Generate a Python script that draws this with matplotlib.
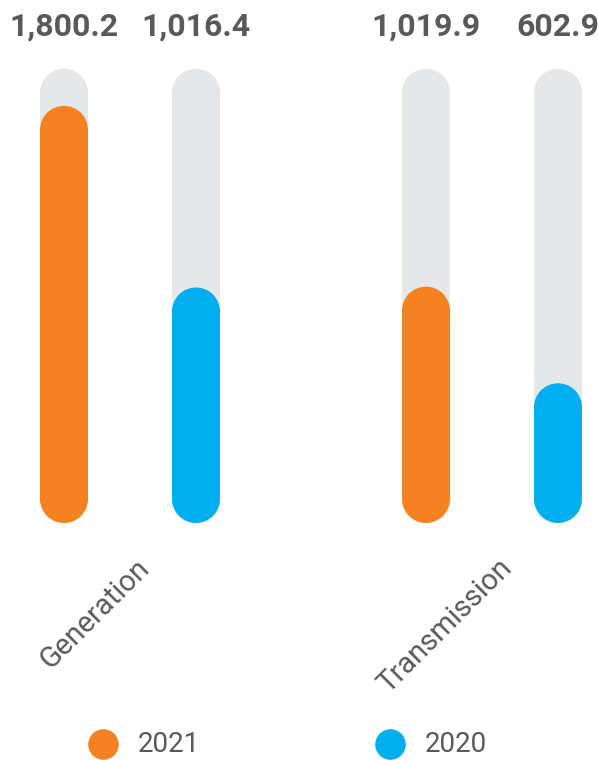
import matplotlib.pyplot as plt
from matplotlib.patches import Rectangle, Ellipse
from matplotlib.lines import Line2D

# data
categories = ['Generation', 'Transmission']
years = ['2021', '2020']
values_2021 = [1800.2, 1019.9]
values_2020 = [1016.4, 602.9]

orange = '#F58220'
blue = '#00AEEF'
track = '#E6E7E8'
txt = '#58595B'

W, H = 598, 760
fig = plt.figure(figsize=(W / 100, H / 100), dpi=100)

# axes: bottom of bars at 523px from top, group centres at 130 and 492 px
bottom_px = 523
ax = fig.add_axes([0, (H - bottom_px) / H, 1, bottom_px / H])
group_gap = 362.0
ax.set_xlim(-130 / group_gap, (W - 130) / group_gap)
ax.set_ylim(0, 2257)
ax.axis('off')

off = 66 / group_gap
bw = 48 / group_gap
track_top = max(values_2021 + values_2020) * 1.089

# cap radius in y data units (half the bar width in pixels)
px_x = W / (ax.get_xlim()[1] - ax.get_xlim()[0])
px_y = bottom_px / (ax.get_ylim()[1] - ax.get_ylim()[0])
ry = (bw * px_x / 2) / px_y


def pill(x, top, color):
    # rectangle body with semicircular caps
    ax.add_patch(Rectangle((x - bw / 2, ry), bw, top - 2 * ry, fc=color, ec='none'))
    ax.add_patch(Ellipse((x, ry), bw, 2 * ry, fc=color, ec='none'))
    ax.add_patch(Ellipse((x, top - ry), bw, 2 * ry, fc=color, ec='none'))


for i, cat in enumerate(categories):
    for dx, vals, col in [(-off, values_2021, orange), (off, values_2020, blue)]:
        x = i + dx
        pill(x, track_top, track)
        pill(x, vals[i], col)
        ax.annotate('{:,.1f}'.format(vals[i]), (x, track_top), xytext=(0, 30),
                    textcoords='offset points', ha='center', va='center',
                    fontsize=23, fontweight='bold', family='Roboto', color=txt)
    ax.annotate(cat, (i, 0), xytext=(4, -22), textcoords='offset points',
                rotation=45, rotation_mode='anchor', ha='right', va='top',
                fontsize=21, family='Roboto', color=txt, annotation_clip=False)

# legend
leg_y = 1 - 744 / H
for xc, year, col in [(103, years[0], orange), (390, years[1], blue)]:
    fig.add_artist(Line2D([xc / W], [leg_y], marker='o', markersize=22,
                          color=col, markeredgewidth=0, linestyle='none'))
    fig.text((xc + 35) / W, leg_y, year, ha='left', va='center', fontsize=20,
             family=['Liberation Sans Narrow', 'Roboto'], color=txt)

fig.savefig('out.png', dpi=100)
